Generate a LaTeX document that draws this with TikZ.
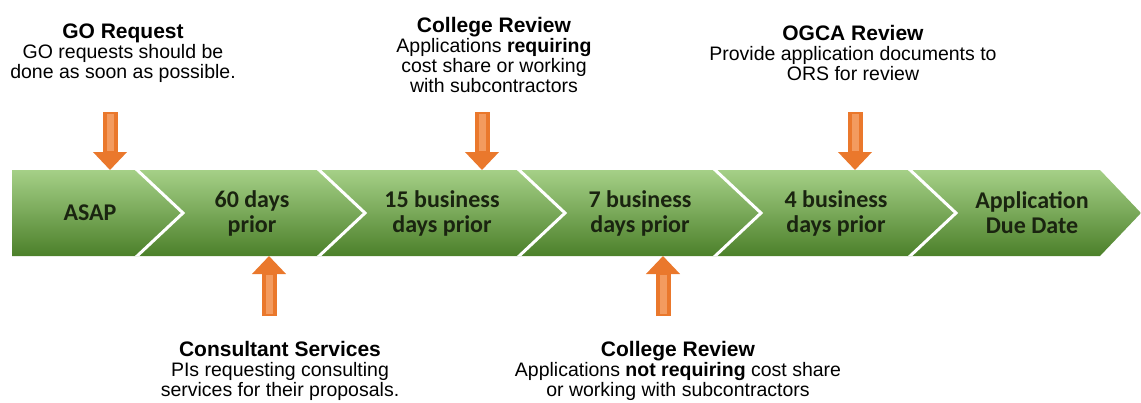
\documentclass[tikz,border=0pt]{standalone}
\usepackage{fontspec}
\setmainfont{Liberation Sans}
\newfontfamily\chevfont{Carlito}
\usepackage{tikz}
\usetikzlibrary{positioning,calc,arrows.meta}
\definecolor{bandtop}{RGB}{165,208,135}
\definecolor{bandbot}{RGB}{76,128,42}
\definecolor{arroworange}{RGB}{234,120,44}
\definecolor{arrowlight}{RGB}{243,155,95}
\definecolor{chevtext}{RGB}{26,36,16}
\tikzstyle{stage} = [align=center, font=\chevfont\bfseries\fontsize{24}{25}\selectfont, text=chevtext, inner sep=0pt]
\tikzstyle{note} = [align=center, font=\fontsize{19.5}{20}\selectfont, inner sep=0pt]
\tikzstyle{sep} = [white, line width=3pt]
\tikzstyle{blockarrow} = [draw=arroworange, line width=15pt, -{Triangle[length=18pt,width=33pt]}]
\tikzstyle{shine} = [arrowlight, line width=7pt]
\newcommand{\ttl}[1]{{\bfseries\fontsize{21}{22}\selectfont #1}}

\begin{document}
\begin{tikzpicture}[x=1pt,y=-1pt]
\useasboundingbox (0,0) rectangle (1141,402);
% green band with white chevron cuts
\begin{scope}
\clip (12,170) -- (1100,170) -- (1141,213) -- (1100,256) -- (12,256) -- cycle;
\shade[top color=bandtop, bottom color=bandbot] (12,170) rectangle (1141,256);
\foreach \x in {135,317,517,713,908}
  \draw[sep] (\x,168) -- (\x+48,213) -- (\x,258);
\end{scope}
\node[stage] (asap) at (90,213) {ASAP};
\node[stage] (d60) at (252,213) {60 days\\prior};
\node[stage] (b15) at (442,213) {15 business\\days prior};
\node[stage] (b7) at (640,213) {7 business\\days prior};
\node[stage] (b4) at (836,213) {4 business\\days prior};
\node[stage] (due) at (1032,213) {Application\\Due Date};
% callouts
\node[note] (go) at (123,53) {\ttl{GO Request}\\GO requests should be\\done as soon as possible.};
\node[note] (colreq) at (494,55) {\ttl{College Review}\\Applications \textbf{requiring}\\cost share or working\\with subcontractors};
\node[note] (ogca) at (853,53) {\ttl{OGCA Review}\\Provide application documents to\\ORS for review};
\node[note] (consult) at (280,371) {\ttl{Consultant Services}\\PIs requesting consulting\\services for their proposals.};
\node[note] (colnot) at (678,371) {\ttl{College Review}\\Applications \textbf{not requiring} cost share\\or working with subcontractors};
% arrows into the band
\foreach \x/\name in {110/go,482/colreq,855/ogca}{
  \coordinate (\name-tail) at (\x,112);
  \coordinate (\name-tip) at (\x,170);
  \draw[blockarrow] (\name-tail) -- (\name-tip);
  \draw[shine] ($(\name-tail)+(0,2)$) -- ($(\name-tip)+(0,-19)$);
}
\foreach \x/\name in {269/consult,663/colnot}{
  \coordinate (\name-tail) at (\x,316);
  \coordinate (\name-tip) at (\x,256);
  \draw[blockarrow] (\name-tail) -- (\name-tip);
  \draw[shine] ($(\name-tail)+(0,-2)$) -- ($(\name-tip)+(0,19)$);
}
\end{tikzpicture}
\end{document}
